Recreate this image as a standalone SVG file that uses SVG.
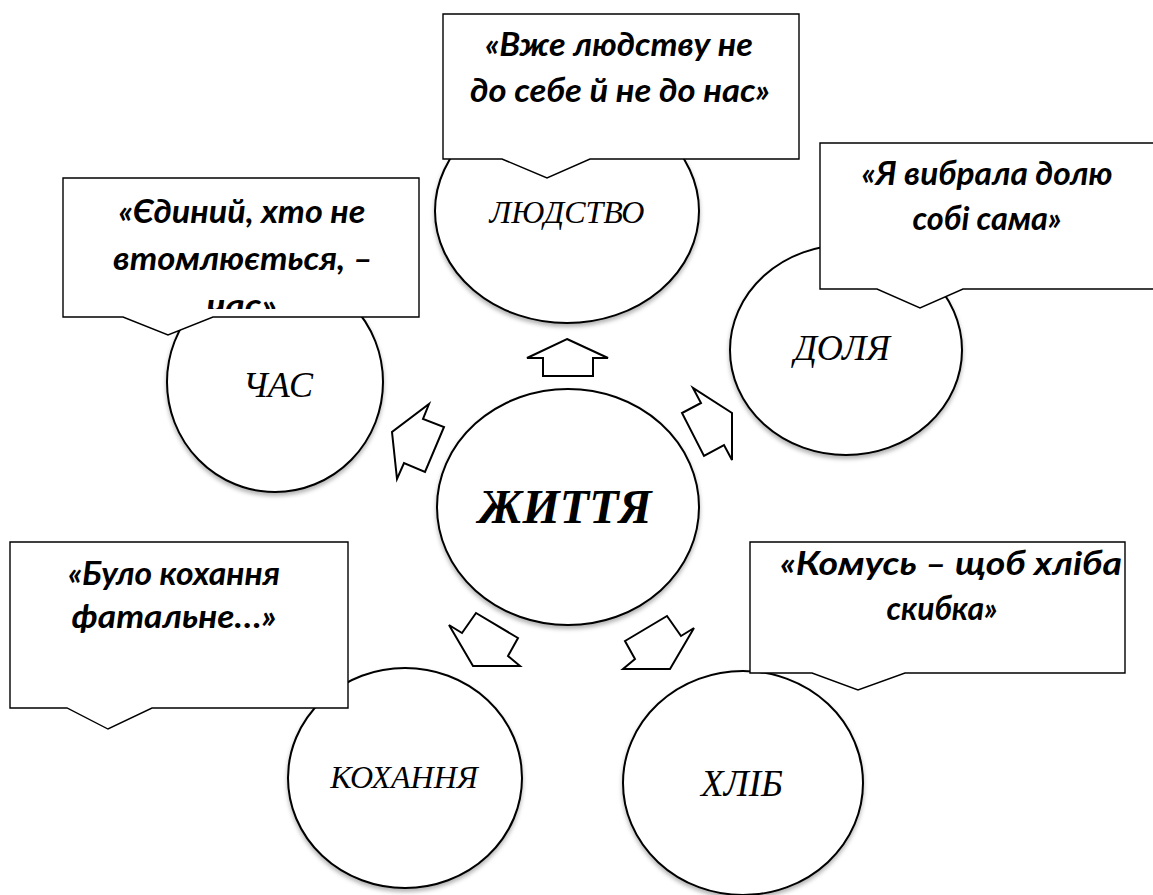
<svg xmlns="http://www.w3.org/2000/svg" width="1153" height="895" viewBox="0 0 1153 895">
<style>
.c{fill:#fff;stroke:#000;stroke-width:2;filter:url(#sh)}
.lbl{font-family:"Liberation Serif","Times New Roman",serif;font-style:italic;text-anchor:middle;fill:#000}
.ar{fill:#fff;stroke:#000;stroke-width:2;stroke-linejoin:miter}
.co{fill:#fff;stroke:#000;stroke-width:1.4}
.q{font-family:Lato,"Open Sans",sans-serif;font-style:italic;font-weight:700;font-size:32px;text-anchor:middle;fill:#000}
</style>
<defs>
<filter id="sh" x="-10%" y="-10%" width="120%" height="125%">
<feDropShadow dx="0" dy="3" stdDeviation="2" flood-color="#000" flood-opacity="0.3"/>
</filter>
<clipPath id="clipT"><rect x="63" y="178" width="357" height="131"/></clipPath>
</defs>

<g id="node-lyudstvo">
<ellipse class="c" cx="567" cy="211" rx="132" ry="112"/>
<text class="lbl" x="567" y="223" font-size="32">ЛЮДСТВО</text>
</g>
<g id="node-chas">
<ellipse class="c" cx="275" cy="382" rx="108" ry="110"/>
<text class="lbl" x="278" y="397" font-size="36">ЧАС</text>
</g>
<g id="node-dolya">
<ellipse class="c" cx="846" cy="350" rx="116" ry="105"/>
<text class="lbl" x="842" y="360" font-size="36">ДОЛЯ</text>
</g>
<g id="node-zhyttya">
<ellipse class="c" cx="568" cy="507" rx="131" ry="118"/>
<text class="lbl" x="565" y="523" font-size="48" font-weight="700">ЖИТТЯ</text>
</g>
<g id="node-kokhannya">
<ellipse class="c" cx="405" cy="778" rx="117" ry="110"/>
<text class="lbl" x="404" y="788" font-size="32">КОХАННЯ</text>
</g>
<g id="node-khlib">
<ellipse class="c" cx="743" cy="783" rx="120" ry="112"/>
<text class="lbl" x="742" y="796" font-size="37">ХЛІБ</text>
</g>

<g id="connectors">
<polygon class="ar" points="567,339 608,358 593,358 593,376 543,376 543,358 527,358"/>
<polygon class="ar" points="429,404 423,419 444,427 425,472 404,463 397,479 392,432"/>
<polygon class="ar" points="693,388 701,403 682,413 704,456 724,445 732,460 732,413"/>
<polygon class="ar" points="473,666 449,625 462,633 476,613 518,638 508,656 520,666"/>
<polygon class="ar" points="670,669 694,628 681,636 667,616 625,641 635,659 623,669"/>
</g>

<g id="callout-lyudstvo">
<path class="co" d="M443,14 H799 V159 H590 L547,178 L502,159 H443 Z"/>
<text class="q" x="619" y="56" textLength="268" lengthAdjust="spacingAndGlyphs">«Вже людству не</text>
<text class="q" x="620" y="102" textLength="300" lengthAdjust="spacingAndGlyphs">до себе й не до нас»</text>
</g>
<g id="callout-chas">
<path class="co" d="M63,178 H419 V317 H213 L168,335 L123,317 H63 Z"/>
<g clip-path="url(#clipT)">
<text class="q" x="242" y="223" textLength="247" lengthAdjust="spacingAndGlyphs">«Єдиний, хто не</text>
<text class="q" x="243" y="270" textLength="260" lengthAdjust="spacingAndGlyphs">втомлюється, –</text>
<text class="q" x="242" y="317" textLength="70" lengthAdjust="spacingAndGlyphs">час»</text>
</g>
</g>
<g id="callout-dolya">
<path class="co" d="M820,143 H1154 V289 H963 L920,308 L877,289 H820 Z"/>
<text class="q" x="987" y="185" textLength="251" lengthAdjust="spacingAndGlyphs">«Я вибрала долю</text>
<text class="q" x="987" y="230" textLength="149" lengthAdjust="spacingAndGlyphs">собі сама»</text>
</g>
<g id="callout-kokhannya">
<path class="co" d="M10,542 H348 V708 H152 L108,729 L67,708 H10 Z"/>
<text class="q" x="174" y="585" textLength="212" lengthAdjust="spacingAndGlyphs">«Було кохання</text>
<text class="q" x="174" y="628" textLength="205" lengthAdjust="spacingAndGlyphs">фатальне…»</text>
</g>
<g id="callout-khlib">
<path class="co" d="M750,542 H1125 V673 H905 L858,690 L812,673 H750 Z"/>
<text class="q" x="951" y="575" textLength="342" lengthAdjust="spacingAndGlyphs">«Комусь – щоб хліба</text>
<text class="q" x="942" y="620" textLength="111" lengthAdjust="spacingAndGlyphs">скибка»</text>
</g>
</svg>
